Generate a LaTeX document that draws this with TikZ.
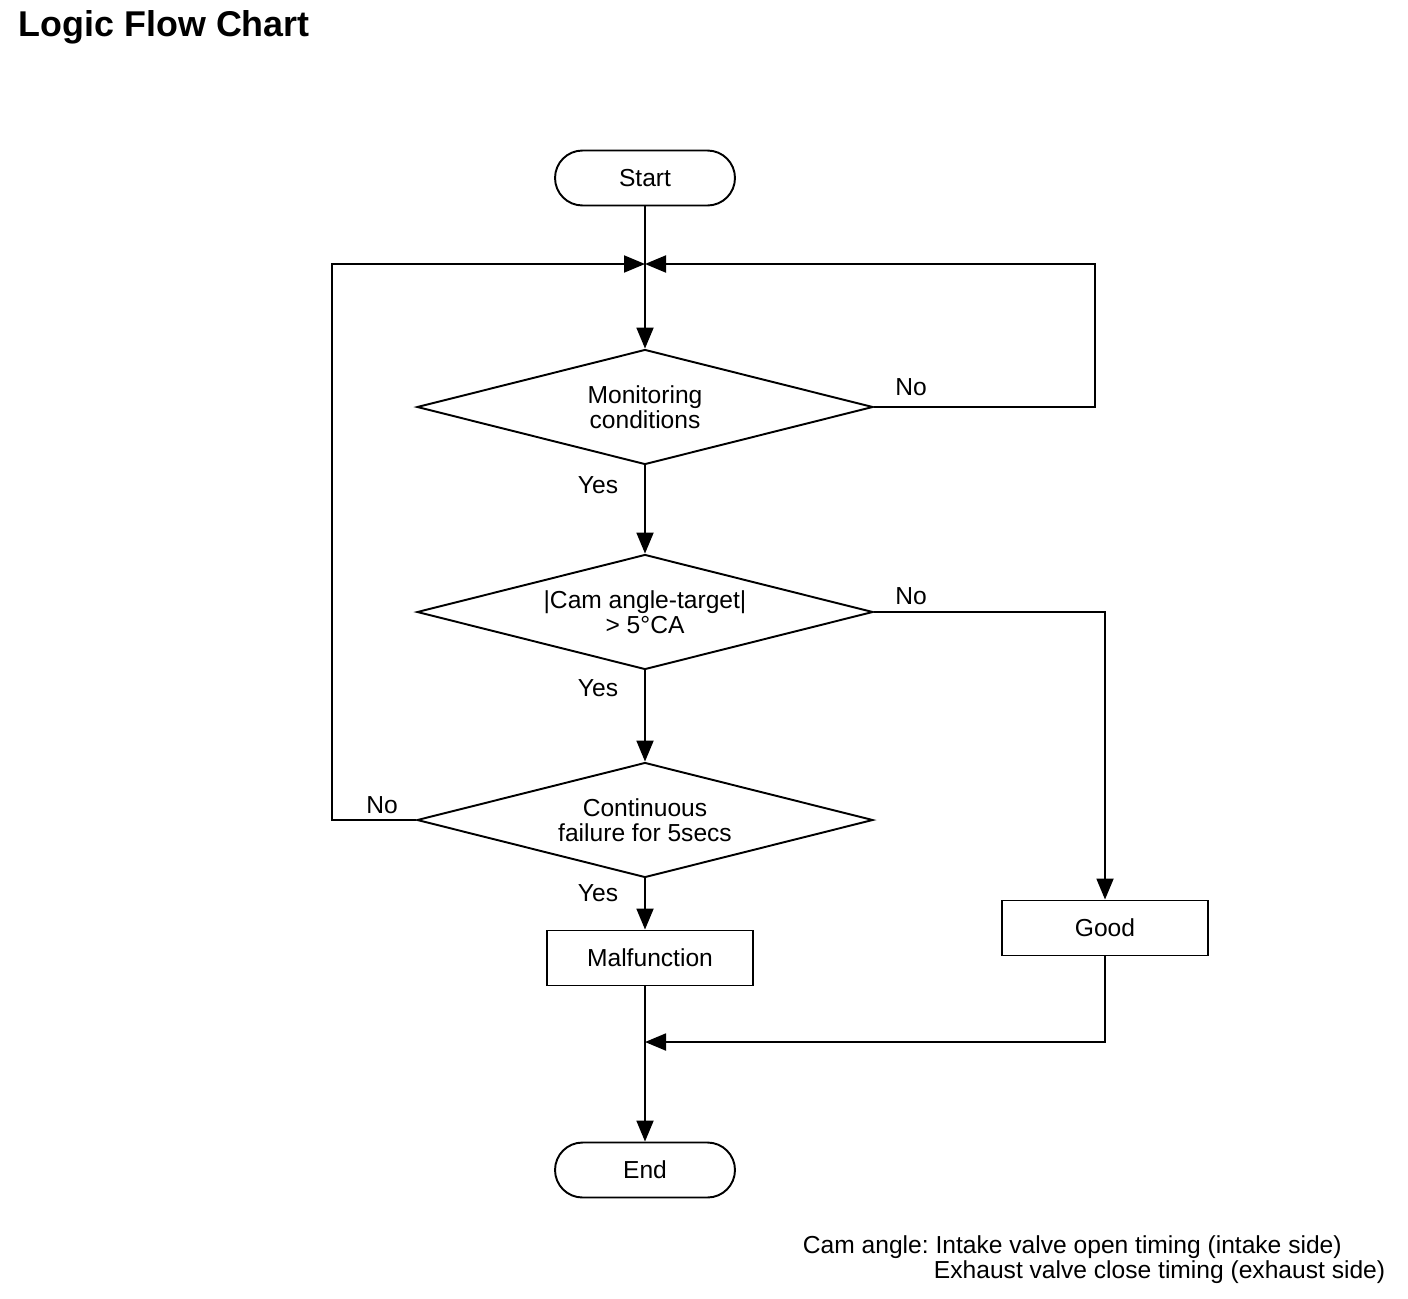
\documentclass[tikz,border=0pt]{standalone}
\usepackage{fontspec}
\setmainfont{Liberation Sans}
\usetikzlibrary{positioning,shapes.geometric,arrows.meta,calc}
\frenchspacing

\begin{document}
\begin{tikzpicture}[x=0.02cm,y=-0.02cm,line width=1.1pt,
  >={Triangle[length=0.42cm,width=0.34cm]},
  txt/.style={font=\fontsize{14}{14}\selectfont},
  term/.style={txt,draw,rectangle,rounded corners=0.55cm,minimum width=3.6cm,minimum height=1.1cm},
  proc/.style={txt,draw,rectangle,minimum width=4.12cm,minimum height=1.1cm},
  test/.style={txt,draw,diamond,aspect=4,minimum width=9.12cm,minimum height=2.3cm,inner sep=0pt,align=center}]
\useasboundingbox (0,0) rectangle (1408,1298);
\node[anchor=base west,inner sep=0pt,font=\bfseries\fontsize{20.4}{24}\selectfont] (title) at (18,36) {Logic Flow Chart};
\node[term] (start) at (645,178) {Start};
\coordinate (junc) at (645,264);
\node[test] (cond) at (645,407) {Monitoring\\conditions};
\node[test] (diff) at (645,612) {|Cam angle-target|\\> 5°CA};
\node[test] (cont) at (645,820) {Continuous\\failure for 5secs};
\node[proc] (malf) at (650,958) {Malfunction};
\node[proc] (good) at (1105,928) {Good};
\coordinate (merge) at (645,1042);
\node[term] (endn) at (645,1170) {End};
\node[txt] (no1) at (911,387) {No};
\node[txt] (yes1) at (598,485) {Yes};
\node[txt] (no2) at (911,596) {No};
\node[txt] (yes2) at (598,688) {Yes};
\node[txt] (no3) at (382,805) {No};
\node[txt] (yes3) at (598,893) {Yes};
\node[txt,anchor=base west,inner sep=0pt] (note1) at (802,1253) {Cam angle: Intake valve open timing (intake side)};
\node[txt,anchor=base west,inner sep=0pt] (note2) at (933,1278) {Exhaust valve close timing (exhaust side)};
\draw[->] (start) -- (cond);
\draw[->] (cond.east) -- ++(221,0) |- (junc);
\draw[->] (cont.west) -- ++(-84,0) |- (junc);
\draw[->] (cond) -- (diff);
\draw[->] (diff) -- (cont);
\draw[->] (diff.east) -| (good.north);
\draw[->] (cont.south) -- (cont.south |- malf.north);
\draw[->] (good.south) |- (merge);
\draw[->] (malf.south -| endn.north) -- (endn.north);
\end{tikzpicture}
\end{document}
